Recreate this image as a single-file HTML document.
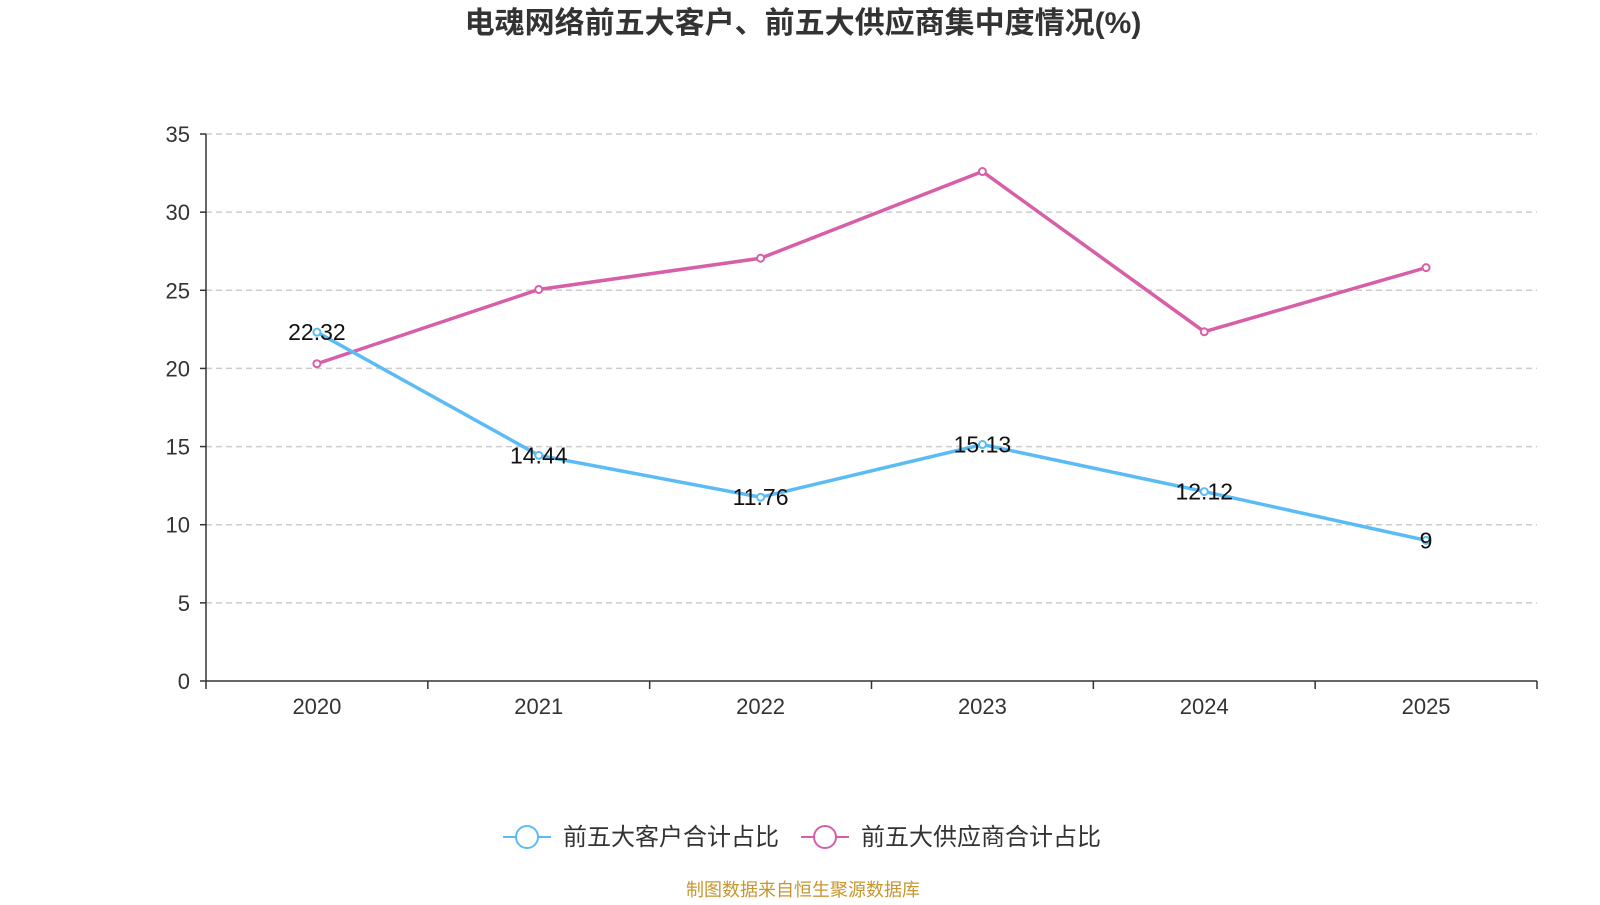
<!DOCTYPE html>
<html><head><meta charset="utf-8"><style>
body{margin:0;background:#fff;font-family:"Liberation Sans","Noto Sans CJK SC",sans-serif}
</style></head><body>
<svg id="c" width="1600" height="900" xmlns="http://www.w3.org/2000/svg">
<text x="803" y="33" text-anchor="middle" font-size="30" font-weight="bold" fill="#333" font-family="Liberation Sans,Noto Sans CJK SC,sans-serif">电魂网络前五大客户、前五大供应商集中度情况(%)</text>
<g id="grid"></g><g id="axes"></g><g id="series"></g>
<g>
<line x1="503" y1="837" x2="551" y2="837" stroke="#5bbcf5" stroke-width="2"/>
<circle cx="527" cy="837" r="11" fill="#fff" stroke="#5bbcf5" stroke-width="2"/>
<text x="563" y="845" font-size="24" fill="#333" font-family="Liberation Sans,Noto Sans CJK SC,sans-serif">前五大客户合计占比</text>
<line x1="801" y1="837" x2="849" y2="837" stroke="#d65fa8" stroke-width="2"/>
<circle cx="825" cy="837" r="11" fill="#fff" stroke="#d65fa8" stroke-width="2"/>
<text x="861" y="845" font-size="24" fill="#333" font-family="Liberation Sans,Noto Sans CJK SC,sans-serif">前五大供应商合计占比</text>
</g>
<text x="803" y="896" text-anchor="middle" font-size="18" fill="#c8962e" font-family="Liberation Sans,Noto Sans CJK SC,sans-serif">制图数据来自恒生聚源数据库</text>
</svg>
<script>
const categories=["2020","2021","2022","2023","2024","2025"];
const customers=[22.32,14.44,11.76,15.13,12.12,9];
const suppliers=[20.3,25.05,27.05,32.6,22.35,26.45];
const yTicks=[0,5,10,15,20,25,30,35];
const NS="http://www.w3.org/2000/svg";
const L=206,R=1537,T=134,B=681,yMax=35;
const bw=(R-L)/categories.length;
const x=i=>L+bw*(i+0.5);
const y=v=>B-(v/yMax)*(B-T);
function mk(tag,a,p,txt){const e=document.createElementNS(NS,tag);for(const k in a)e.setAttribute(k,a[k]);if(txt!==undefined)e.textContent=txt;p.appendChild(e);return e;}
const grid=document.getElementById('grid'),axes=document.getElementById('axes'),ser=document.getElementById('series');
const F="Liberation Sans,Noto Sans CJK SC,sans-serif";
yTicks.forEach(t=>{
 if(t>0){const g=mk('line',{x1:L,x2:R,y1:y(t),y2:y(t),stroke:'#ccc','stroke-dasharray':'6,4','stroke-width':1.5},grid);
 
 }
 const tl=mk('text',{x:L-16,y:y(t)+8,'text-anchor':'end','font-size':22,fill:'#333','font-family':F},axes,String(t));
 
 
 mk('line',{x1:L-6,x2:L,y1:y(t),y2:y(t),stroke:'#333','stroke-width':1.5},axes);
});
mk('line',{x1:L,x2:L,y1:T,y2:B,stroke:'#333','stroke-width':1.5},axes);
mk('line',{x1:L,x2:R,y1:B,y2:B,stroke:'#333','stroke-width':1.5},axes);
for(let i=0;i<=categories.length;i++)mk('line',{x1:L+bw*i,x2:L+bw*i,y1:B,y2:B+8,stroke:'#333','stroke-width':1.5},axes);
categories.forEach((c,i)=>{const t=mk('text',{x:x(i),y:B+33,'text-anchor':'middle','font-size':22,fill:'#333','font-family':F},axes,c);
 
 });
function draw(vals,color,name,labels){
 const p=mk('polyline',{points:vals.map((v,i)=>x(i)+','+y(v)).join(' '),fill:'none',stroke:color,'stroke-width':3.5},ser);
 
 
 vals.forEach((v,i)=>{const c=mk('circle',{cx:x(i),cy:y(v),r:3.5,fill:'#fff',stroke:color,'stroke-width':2},ser);
  
  
  if(labels){const t=mk('text',{x:x(i),y:y(v)+8,'text-anchor':'middle','font-size':23,fill:'#111','font-family':F},ser,String(v));
  
  }
 });
}
draw(suppliers,'#d65fa8','suppliers',false);
draw(customers,'#5bbcf5','customers',true);
</script>
</body></html>
